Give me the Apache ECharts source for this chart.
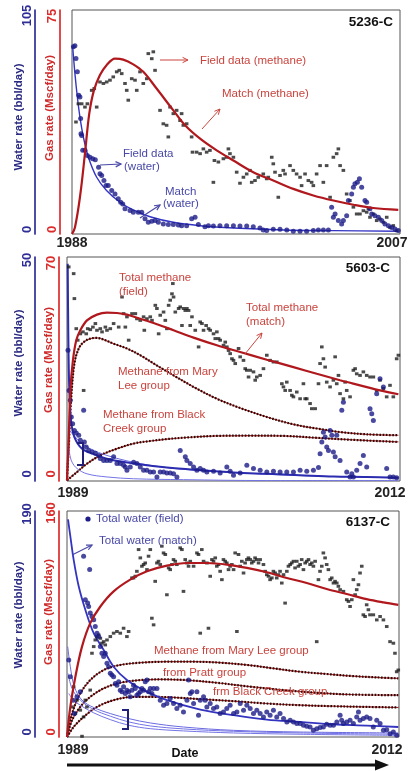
<!DOCTYPE html>
<html><head><meta charset="utf-8">
<script src="https://cdn.jsdelivr.net/npm/echarts@6/dist/echarts.min.js"></script>
<style>html,body{margin:0;padding:0;background:#fff}#c{width:408px;height:771px}</style>
</head><body><div id="c"></div>
<script>
// ---------- tick labels ----------
const xTicks1=[1988,2007], gasTicks1=[0,75], waterTicks1=[0,105];
const xTicks2=[1989,2012], gasTicks2=[0,70], waterTicks2=[0,50];
const xTicks3=[1989,2012], gasTicks3=[0,160], waterTicks3=[0,190];

// ---------- panel 1 : 5236-C ----------
const gas1Match=[[1988.0,0],[1988.17,2.2],[1988.46,12.3],[1988.75,26.9],[1989.0,40.3],[1989.27,48.1],[1989.62,53.2],[1990.0,56.5],[1990.49,58.7],[1990.97,58.4],[1991.55,56.8],[1992.13,54.3],[1992.9,48.7],[1993.87,41.4],[1994.55,36.4],[1995.42,31.9],[1996.38,28],[1997.35,24.6],[1998.5,20.7],[1999.66,17.9],[2000.82,15.1],[2001.98,12.9],[2003.14,11.2],[2004.3,9.8],[2005.46,8.7],[2006.9,8.1]];
const water1Match=[[1988.04,87.8],[1988.17,75.2],[1988.31,64.2],[1988.46,54.8],[1988.66,45.4],[1988.95,36],[1989.43,26.6],[1990.0,20.4],[1990.78,14.9],[1991.55,11.3],[1992.52,8.1],[1993.87,5.5],[1995.42,3.9],[1997.35,2.8],[2000.24,1.9],[2003.14,1.6],[2006.9,1.3]];
const gas1Field=[[1988.23,37.5],[1988.37,43.6],[1988.56,43.6],[1988.75,42.5],[1988.89,43.6],[1989.14,48.1],[1989.29,48.7],[1989.43,42.5],[1989.62,50.9],[1989.82,50.4],[1990.01,50.9],[1990.2,51.5],[1990.39,52.6],[1990.59,54.3],[1990.74,54.8],[1990.88,53.7],[1991.07,50.4],[1991.17,48.1],[1991.26,44.8],[1991.46,52.0],[1991.65,51.5],[1991.75,48.1],[1991.94,54.3],[1992.13,50.4],[1992.33,52.0],[1992.42,60.4],[1992.62,58.7],[1992.71,61.0],[1992.81,54.8],[1993.1,41.4],[1993.29,36.9],[1993.48,36.4],[1993.58,32.5],[1993.68,42.5],[1993.87,40.3],[1994.06,41.4],[1994.26,38.0],[1994.35,40.3],[1994.45,36.4],[1994.64,36.9],[1994.93,32.5],[1994.98,27.4],[1995.22,27.4],[1995.42,26.9],[1995.61,28.5],[1995.8,27.4],[1995.99,28.0],[1996.19,17.3],[1996.25,24.6],[1996.48,24.1],[1996.77,25.2],[1996.96,25.7],[1997.06,28.5],[1997.15,26.9],[1997.35,25.7],[1997.54,20.7],[1997.73,17.0],[1997.93,19.0],[1998.12,20.1],[1998.31,21.3],[1998.41,17.3],[1998.6,17.9],[1998.79,19.0],[1999.08,20.1],[1999.28,18.5],[1999.37,19.0],[1999.57,25.7],[1999.66,23.5],[1999.76,20.7],[1999.95,12.3],[2000.05,19.6],[2000.24,21.3],[2000.34,20.1],[2000.63,22.9],[2000.82,21.3],[2001.01,20.1],[2001.21,19.0],[2001.3,16.2],[2001.5,20.1],[2001.69,17.9],[2001.88,17.3],[2001.98,16.2],[2002.17,20.1],[2002.37,22.9],[2002.56,17.3],[2002.75,22.9],[2002.95,12.3],[2003.14,25.7],[2003.33,26.9],[2003.43,28.5],[2003.53,22.9],[2003.72,21.3],[2003.91,13.4],[2004.1,11.2],[2004.3,9.0],[2004.49,6.7],[2004.68,6.7],[2004.88,7.8],[2005.07,7.3],[2005.17,8.4],[2005.26,5.6],[2005.46,6.7],[2005.65,4.5],[2005.84,5.0],[2006.04,3.9],[2006.23,5.6],[2006.42,2.2],[2006.61,2.8],[2006.81,1.1]];
const water1Field=[[1988.08,87.8],[1988.17,88.2],[1988.23,82.3],[1988.31,76.0],[1988.39,65.0],[1988.46,64.2],[1988.5,54.1],[1988.52,47.0],[1988.56,46.2],[1988.62,39.2],[1988.75,39.2],[1988.89,36.8],[1989.04,36.0],[1989.2,35.3],[1989.35,34.8],[1989.54,31.3],[1989.62,28.2],[1989.72,27.4],[1989.85,25.1],[1989.97,22.7],[1990.1,22.7],[1990.3,20.4],[1990.49,18.8],[1990.68,16.5],[1990.82,14.9],[1990.94,14.1],[1991.07,11.8],[1991.36,11.0],[1991.55,10.2],[1991.84,10.2],[1992.04,10.2],[1992.23,7.1],[1992.42,5.5],[1992.62,6.0],[1992.81,6.3],[1993.0,5.5],[1993.29,4.7],[1993.58,4.4],[1993.87,4.4],[1994.16,4.2],[1994.35,3.9],[1994.64,3.9],[1994.93,7.1],[1995.13,7.8],[1995.32,4.4],[1995.7,3.4],[1995.9,3.9],[1996.19,3.8],[1996.57,3.9],[1996.96,3.9],[1997.35,3.9],[1997.73,3.8],[1998.12,3.8],[1998.5,3.4],[1998.89,2.8],[1999.08,1.9],[1999.28,1.6],[1999.66,2.2],[2000.05,2.2],[2000.44,1.9],[2000.82,1.3],[2001.21,1.3],[2001.59,1.3],[2001.98,1.6],[2002.27,1.9],[2002.56,1.9],[2002.85,1.9],[2003.04,12.5],[2003.14,7.8],[2003.24,9.4],[2003.43,6.3],[2003.62,4.7],[2003.72,6.3],[2003.91,8.6],[2004.01,15.7],[2004.2,18.8],[2004.3,21.9],[2004.39,23.5],[2004.53,24.3],[2004.65,25.9],[2004.78,21.9],[2004.97,15.7],[2005.07,14.9],[2005.26,11.8],[2005.36,9.4],[2005.55,8.6],[2005.75,7.8],[2005.94,6.3],[2006.13,4.7],[2006.33,3.9],[2006.52,3.1],[2006.71,2.4],[2006.9,1.6]];

// ---------- panel 2 : 5603-C ----------
const gas2Match=[[1989.0,0.2],[1989.12,13.7],[1989.23,28.3],[1989.41,37.7],[1989.64,44.0],[1989.92,47.1],[1990.38,50.2],[1991.07,52.0],[1991.76,52.6],[1992.45,52.5],[1993.14,52.0],[1994.06,50.7],[1995.21,49.0],[1996.36,47.1],[1997.74,44.8],[1999.35,42.4],[2000.96,40.3],[2002.8,37.9],[2004.64,35.6],[2006.25,33.5],[2007.86,31.5],[2009.24,29.9],[2010.62,28.3],[2011.89,27.1]];
const maryLee2=[[1989.0,0.2],[1989.12,10.6],[1989.28,25.2],[1989.51,36.7],[1989.81,41.4],[1990.15,43.4],[1990.61,44.5],[1991.07,44.7],[1991.53,44.2],[1992.22,42.9],[1993.14,41.4],[1994.06,39.3],[1995.21,36.1],[1996.36,33.0],[1997.74,29.4],[1999.35,25.7],[2000.96,22.8],[2002.8,20.0],[2004.64,17.7],[2006.25,16.4],[2007.86,15.3],[2009.7,14.6],[2011.89,14.3]];
const blackCreek2=[[1989.0,0.2],[1989.69,2.8],[1990.38,5.4],[1991.3,8.0],[1992.45,10.1],[1993.6,11.7],[1994.75,12.5],[1995.9,13.1],[1997.28,13.6],[1999.35,14.1],[2001.65,14.2],[2003.95,14.1],[2006.25,13.5],[2008.55,12.9],[2011.89,12.2]];
const water2Match=[[1989.05,48.5],[1989.09,32.9],[1989.16,20.2],[1989.28,13.5],[1989.51,9.8],[1990.04,7.2],[1990.84,6.0],[1991.99,4.8],[1993.6,3.9],[1995.9,3.0],[1998.2,2.4],[2000.5,1.9],[2002.8,1.6],[2005.1,1.3],[2007.4,1.0],[2009.7,0.9],[2011.89,0.7]];
const water2CompA=[[1989.07,11.7],[1989.35,10.6],[1989.92,8.7],[1990.61,7.2],[1991.76,5.7],[1993.14,4.5],[1994.75,3.5],[1997.05,2.6],[2000.5,1.9],[2005.1,1.2],[2011.89,0.7]];
const water2CompB=[[1989.09,9.1],[1989.18,6.1],[1989.35,4.2],[1989.69,2.8],[1990.38,1.6],[1991.76,0.9],[1993.6,0.5],[1997.05,0.3],[2002.8,0.1],[2011.89,0.1]];
const gas2Field=[[1989.12,66.9],[1989.46,64.8],[1989.51,57.0],[1989.64,47.6],[1989.74,44.0],[1989.92,46.0],[1990.1,46.6],[1990.15,28.3],[1990.33,46.0],[1990.43,47.6],[1990.61,47.3],[1990.79,48.1],[1990.96,49.2],[1991.07,47.1],[1991.3,47.6],[1991.42,46.6],[1991.65,48.1],[1991.76,47.1],[1991.99,47.6],[1992.22,49.2],[1992.57,48.1],[1992.8,57.5],[1992.91,52.3],[1993.03,48.1],[1993.14,51.3],[1993.26,44.0],[1993.49,52.3],[1993.72,52.3],[1993.83,50.7],[1994.06,50.2],[1994.29,51.3],[1994.34,47.1],[1994.52,50.7],[1994.75,51.3],[1994.87,50.2],[1995.1,54.9],[1995.21,53.9],[1995.33,46.0],[1995.44,51.8],[1995.67,52.8],[1995.79,50.2],[1995.9,47.6],[1996.02,54.9],[1996.13,56.5],[1996.25,58.5],[1996.31,61.7],[1996.36,57.5],[1996.48,52.8],[1996.71,53.9],[1996.82,54.4],[1996.94,48.6],[1997.05,53.9],[1997.17,53.3],[1997.28,53.9],[1997.4,53.3],[1997.51,48.6],[1997.63,51.3],[1997.86,47.1],[1998.09,41.9],[1998.2,49.7],[1998.32,49.2],[1998.43,47.1],[1998.61,48.6],[1998.78,47.6],[1998.89,47.1],[1999.12,46.0],[1999.24,44.5],[1999.35,46.6],[1999.47,44.5],[1999.58,44.0],[1999.81,42.4],[1999.93,43.4],[2000.04,41.9],[2000.16,40.8],[2000.27,39.8],[2000.39,38.2],[2000.5,37.7],[2000.62,36.7],[2000.85,41.4],[2000.96,38.8],[2001.19,37.7],[2001.31,35.1],[2001.42,34.6],[2001.54,32.5],[2001.65,34.6],[2001.88,34.1],[2002.0,31.5],[2002.11,32.5],[2002.34,33.0],[2002.57,35.1],[2002.8,39.3],[2003.03,37.7],[2003.26,37.2],[2003.49,37.2],[2003.84,30.4],[2003.95,29.4],[2004.07,28.3],[2004.18,30.9],[2004.41,28.3],[2004.53,26.8],[2004.64,26.3],[2004.87,27.8],[2005.1,25.7],[2005.33,30.4],[2005.45,25.7],[2005.56,25.7],[2005.79,24.2],[2005.91,22.6],[2006.14,22.6],[2006.37,30.4],[2006.48,36.7],[2006.6,41.9],[2006.71,38.2],[2006.83,35.6],[2006.94,30.9],[2007.17,29.4],[2007.4,31.5],[2007.52,38.8],[2007.63,30.4],[2007.75,33.0],[2007.86,27.3],[2008.09,25.7],[2008.21,30.9],[2008.32,28.3],[2008.55,26.3],[2008.78,34.6],[2008.9,35.1],[2009.01,33.5],[2009.24,33.0],[2009.47,34.1],[2009.7,33.0],[2009.93,32.5],[2010.16,32.5],[2010.39,28.3],[2010.62,31.5],[2010.85,28.9],[2011.08,26.3],[2011.31,29.9],[2011.54,26.3],[2011.77,38.2],[2011.89,39.3]];
const water2Field=[[1989.07,29.2],[1989.14,20.2],[1989.23,18.0],[1989.3,14.3],[1989.39,12.8],[1989.51,11.3],[1989.64,10.7],[1989.81,10.2],[1989.92,9.1],[1990.15,15.8],[1990.2,8.7],[1990.33,7.6],[1990.5,6.8],[1990.73,6.5],[1990.96,6.2],[1991.19,5.7],[1991.3,5.0],[1991.53,4.6],[1991.76,4.6],[1991.99,4.6],[1992.22,5.4],[1992.45,3.9],[1992.68,3.9],[1992.91,3.5],[1993.03,3.1],[1993.14,2.4],[1993.37,3.1],[1993.6,4.2],[1993.83,3.9],[1994.06,3.1],[1994.29,2.4],[1994.52,2.4],[1994.75,2.0],[1994.98,2.0],[1995.21,0.9],[1995.44,2.0],[1995.67,2.0],[1995.9,1.8],[1996.13,1.8],[1996.36,1.6],[1996.59,0.9],[1996.82,6.8],[1997.17,5.4],[1997.28,4.6],[1997.51,3.9],[1997.74,3.1],[1997.97,2.4],[1998.2,2.8],[1998.43,2.4],[1998.66,2.0],[1999.12,2.2],[1999.58,1.8],[2000.04,3.1],[2000.27,2.2],[2000.5,1.3],[2000.96,1.8],[2001.42,3.5],[2001.88,2.8],[2002.34,2.4],[2002.8,2.0],[2003.26,2.2],[2003.72,2.0],[2004.18,2.0],[2004.64,2.0],[2005.1,2.4],[2005.56,2.2],[2006.02,2.4],[2006.37,3.0],[2006.48,6.1],[2006.6,8.7],[2006.71,10.9],[2006.83,9.8],[2006.94,7.6],[2007.06,6.8],[2007.17,11.3],[2007.29,10.2],[2007.4,6.5],[2007.52,5.4],[2007.63,10.2],[2007.86,4.6],[2007.98,15.8],[2008.09,17.6],[2008.32,2.0],[2008.55,0.9],[2008.67,1.6],[2008.78,0.9],[2009.01,2.4],[2009.24,3.9],[2009.47,5.7],[2009.7,3.1],[2009.93,16.1],[2010.05,15.0],[2010.16,13.5],[2010.39,19.5],[2010.62,22.8],[2010.85,21.0],[2011.08,2.8],[2011.31,0.9],[2011.54,0.9],[2011.77,0.7]];

// ---------- panel 3 : 6137-C ----------
const gas3Match=[[1989.0,0],[1989.23,21.3],[1989.58,42.7],[1990.04,64.0],[1990.61,80.6],[1991.31,92.4],[1992.23,103.1],[1993.38,111.4],[1994.54,117.3],[1995.92,121.3],[1997.31,123.2],[1998.69,123.2],[2000.07,122.1],[2001.46,119.7],[2002.84,116.6],[2004.23,112.6],[2005.61,109.0],[2006.99,104.8],[2008.38,101.2],[2009.76,97.6],[2010.92,95.3],[2011.95,93.6]];
const maryLee3=[[1989.0,0],[1989.35,16.6],[1989.92,30.8],[1990.61,40.3],[1991.54,47.4],[1992.69,51.0],[1994.08,52.6],[1995.92,53.3],[1997.77,53.3],[1999.61,52.6],[2001.46,51.0],[2003.3,48.6],[2005.15,46.2],[2006.99,44.6],[2008.84,43.1],[2010.46,42.2],[2011.95,41.5]];
const pratt3=[[1989.0,0],[1989.35,11.9],[1989.92,21.3],[1990.61,28.4],[1991.54,34.4],[1992.69,38.4],[1994.08,40.3],[1995.46,40.8],[1997.31,40.3],[1999.38,38.4],[2001.69,35.6],[2004.0,33.2],[2006.3,31.3],[2008.61,30.1],[2011.95,29.6]];
const blackCreek3=[[1989.0,0],[1989.46,7.1],[1990.15,14.2],[1991.08,21.3],[1992.23,26.1],[1993.61,28.4],[1995.0,28.4],[1996.38,28.0],[1998.23,26.8],[2000.54,25.4],[2002.84,23.7],[2005.15,22.5],[2007.46,21.8],[2009.76,21.3],[2011.95,20.9]];
const water3Match=[[1989.07,183.0],[1989.23,168.9],[1989.46,149.2],[1989.81,126.7],[1990.27,107.0],[1990.85,87.3],[1991.54,73.2],[1992.23,59.1],[1993.15,47.9],[1994.31,39.4],[1995.92,31.0],[1998.23,23.1],[2000.54,18.3],[2002.84,14.6],[2005.15,12.7],[2007.46,10.7],[2009.76,9.6],[2011.95,8.4]];
const water3Comp1=[[1989.05,76.0],[1989.23,59.1],[1989.51,42.2],[1990.04,31.0],[1990.85,24.8],[1992.0,19.7],[1993.27,15.5],[1994.77,11.8],[1997.07,8.4],[2000.54,5.6],[2005.15,4.2],[2011.95,3.4]];
const water3Comp2=[[1989.07,53.5],[1989.35,40.8],[1989.92,31.0],[1990.85,23.1],[1992.0,17.5],[1993.27,12.7],[1994.77,9.3],[1997.07,6.8],[2000.54,4.8],[2005.15,3.4],[2011.95,2.3]];
const water3Comp3=[[1989.12,36.6],[1989.46,31.0],[1989.92,26.7],[1990.85,20.3],[1992.0,14.6],[1993.27,9.9],[1994.77,7.0],[1997.07,5.1],[2000.54,3.4],[2005.15,2.3],[2011.95,1.4]];
const gas3Field=[[1989.35,21.3],[1989.46,35.6],[1989.58,16.6],[1989.69,26.1],[1989.92,19.0],[1990.04,0.5],[1990.15,14.2],[1990.27,26.1],[1990.38,21.3],[1990.61,33.2],[1990.73,59.3],[1990.85,64.0],[1990.96,68.7],[1991.08,71.1],[1991.19,72.3],[1991.31,69.9],[1991.42,66.4],[1991.54,67.5],[1991.65,65.2],[1991.77,68.7],[1992.0,71.1],[1992.23,73.5],[1992.46,74.7],[1992.69,73.5],[1992.92,77.0],[1993.15,71.1],[1993.27,74.7],[1993.5,112.6],[1993.61,112.6],[1993.73,113.8],[1993.84,117.3],[1993.96,132.7],[1994.08,126.8],[1994.19,120.9],[1994.31,122.1],[1994.42,123.2],[1994.54,118.5],[1994.65,128.0],[1994.77,132.7],[1994.88,84.1],[1995.0,79.4],[1995.11,110.2],[1995.23,123.2],[1995.34,124.4],[1995.46,122.1],[1995.57,135.1],[1995.69,130.3],[1995.81,129.2],[1995.92,100.7],[1996.04,119.7],[1996.15,118.5],[1996.27,122.1],[1996.38,125.6],[1996.5,124.4],[1996.61,122.1],[1996.84,133.9],[1996.96,132.7],[1997.07,103.1],[1997.19,125.6],[1997.31,123.2],[1997.42,120.9],[1997.54,124.4],[1997.77,120.9],[1998.0,130.3],[1998.11,129.2],[1998.23,73.5],[1998.34,132.7],[1998.46,124.4],[1998.69,123.2],[1998.8,77.0],[1998.92,113.8],[1999.04,125.6],[1999.15,124.4],[1999.27,126.8],[1999.38,120.9],[1999.5,122.1],[1999.61,117.3],[1999.73,111.4],[1999.84,125.6],[1999.96,124.4],[2000.07,123.2],[2000.19,118.5],[2000.3,120.9],[2000.42,122.1],[2000.54,118.5],[2000.65,130.3],[2000.77,74.7],[2000.88,129.2],[2001.0,120.9],[2001.11,124.4],[2001.23,116.1],[2001.34,123.2],[2001.46,125.6],[2001.57,126.8],[2001.69,125.6],[2001.8,123.2],[2001.92,124.4],[2002.03,126.8],[2002.15,125.6],[2002.27,123.2],[2002.38,125.6],[2002.61,122.1],[2002.73,117.3],[2002.84,114.9],[2002.96,113.8],[2003.07,111.4],[2003.19,112.6],[2003.3,117.3],[2003.42,116.1],[2003.53,112.6],[2003.65,114.9],[2003.76,117.3],[2003.88,109.0],[2004.0,114.9],[2004.11,94.8],[2004.23,117.3],[2004.34,120.9],[2004.46,122.1],[2004.57,123.2],[2004.69,124.4],[2004.8,119.7],[2004.92,124.4],[2005.03,120.9],[2005.15,122.1],[2005.26,125.6],[2005.38,118.5],[2005.5,123.2],[2005.61,124.4],[2005.73,125.6],[2005.84,122.1],[2005.96,123.2],[2006.07,120.9],[2006.19,124.4],[2006.3,67.5],[2006.42,111.4],[2006.53,117.3],[2006.65,120.9],[2006.76,130.3],[2006.88,126.8],[2006.99,122.1],[2007.11,118.5],[2007.23,111.4],[2007.34,112.6],[2007.46,109.0],[2007.57,110.2],[2007.69,109.0],[2007.8,106.7],[2007.92,104.3],[2008.15,103.1],[2008.38,97.2],[2008.5,96.0],[2008.61,92.4],[2008.73,97.2],[2008.84,111.4],[2008.96,100.7],[2009.07,104.3],[2009.19,107.8],[2009.3,116.1],[2009.42,120.9],[2009.53,86.5],[2009.65,85.3],[2009.76,93.6],[2009.88,90.1],[2009.99,86.5],[2010.22,86.5],[2010.46,82.9],[2010.69,85.3],[2010.92,82.9],[2011.15,78.2],[2011.38,67.5],[2011.61,66.4],[2011.72,59.3],[2011.84,46.2],[2011.95,47.4]];
const water3Field=[[1989.12,64.7],[1989.23,50.7],[1989.42,31.0],[1989.51,19.7],[1989.69,33.8],[1989.92,38.0],[1990.15,152.0],[1990.57,140.8],[1990.27,115.4],[1990.43,112.6],[1990.5,109.8],[1990.61,104.2],[1990.73,101.4],[1990.85,98.5],[1990.96,92.9],[1991.08,87.3],[1991.19,84.5],[1991.31,76.0],[1991.42,70.4],[1991.54,67.6],[1991.65,70.4],[1991.77,61.9],[1991.88,59.1],[1992.0,53.5],[1992.11,52.1],[1992.23,50.7],[1992.35,45.0],[1992.46,43.6],[1992.58,46.4],[1992.69,39.4],[1992.81,38.0],[1992.92,42.2],[1993.04,36.6],[1993.15,39.4],[1993.27,38.0],[1993.38,33.8],[1993.5,39.4],[1993.61,43.6],[1993.73,40.8],[1993.84,35.2],[1993.96,36.6],[1994.08,38.0],[1994.19,40.8],[1994.31,39.4],[1994.42,46.4],[1994.54,47.9],[1994.65,38.0],[1994.77,40.8],[1994.88,36.6],[1995.0,40.8],[1995.23,40.8],[1995.46,31.0],[1995.69,26.7],[1995.92,28.2],[1996.15,32.4],[1996.38,28.2],[1996.61,23.9],[1996.84,26.7],[1997.07,21.1],[1997.31,31.0],[1997.42,47.9],[1997.54,36.6],[1997.65,38.0],[1997.77,28.2],[1998.0,38.0],[1998.11,18.3],[1998.23,31.0],[1998.46,33.8],[1998.57,31.0],[1998.69,25.3],[1998.92,28.2],[1999.15,23.9],[1999.38,25.3],[1999.61,19.7],[1999.84,21.1],[2000.07,23.9],[2000.3,26.7],[2000.54,19.7],[2000.77,21.1],[2001.0,28.2],[2001.23,22.5],[2001.46,26.7],[2001.69,23.9],[2001.92,19.7],[2002.15,22.5],[2002.38,19.7],[2002.61,16.9],[2002.84,21.1],[2003.07,18.3],[2003.3,22.5],[2003.53,16.9],[2003.76,19.7],[2004.0,15.5],[2004.23,12.7],[2004.46,14.1],[2004.69,12.7],[2004.92,11.3],[2005.15,11.3],[2005.38,9.9],[2005.61,9.0],[2005.84,8.4],[2006.07,5.6],[2006.3,7.0],[2006.53,7.9],[2006.76,8.4],[2006.99,10.7],[2007.23,9.9],[2007.46,9.9],[2007.69,12.7],[2007.92,18.3],[2008.03,14.1],[2008.15,11.3],[2008.38,12.7],[2008.61,14.1],[2008.84,11.3],[2009.07,16.9],[2009.19,21.1],[2009.3,14.1],[2009.53,15.5],[2009.76,16.9],[2009.99,15.5],[2010.22,8.4],[2010.46,14.1],[2010.69,11.3],[2010.92,5.6],[2011.15,6.2],[2011.38,2.8],[2011.61,4.2],[2011.84,1.4]];

// ---------- styling ----------
const FONT='"Liberation Sans", Arial, sans-serif';
const BLUE_AX='#2e2e96', RED_AX='#dc2b2b', BLUE_TT='#2a2a80', RED_TT='#cf2b2b';
const RED_T='#c9443e', BLUE_T='#4848a8';
const DOT_BLK='#1e1e1e', DOT_BLU='#1c1c88', MATCH_RED='#b0181d';

function xAx(gi,ticks,padL,padR,margin,extra){
  const f={fontWeight:'bold',fontSize:14,color:'#222',fontFamily:FONT};
  return Object.assign({type:'value',gridIndex:gi,min:ticks[0],max:ticks[1],nameMoveOverlap:false,
    splitLine:{show:false},axisLine:{show:false},axisTick:{show:false},
    axisLabel:{customValues:ticks,margin,
      formatter:v=>v===ticks[0]?'{a|'+v+'}':'{b|'+v+'}',
      rich:{a:Object.assign({padding:[0,0,0,padL]},f),b:Object.assign({padding:[0,padR,0,0]},f)}}},extra||{});
}
function yAx(gi,ticks,color,tcolor,offset,name,nameGap,shift,padTop,padZero){
  const f={fontWeight:'bold',fontSize:13,color,fontFamily:FONT};
  return {type:'value',gridIndex:gi,position:'left',offset,min:ticks[0],max:ticks[1],nameMoveOverlap:false,
    splitLine:{show:false},axisTick:{show:false},
    axisLine:{show:true,lineStyle:{color,width:1.7}},
    axisLabel:{customValues:ticks,rotate:90,margin:1,
      formatter:v=>v===0?'{z|0}':'{m|'+v+'}',
      rich:{z:Object.assign({padding:[0,0,0,padZero]},f),m:Object.assign({padding:[0,padTop,0,0]},f)}},
    name,nameLocation:'middle',nameRotate:90,nameGap,
    nameTextStyle:{color:tcolor,fontWeight:'bold',fontSize:11.5,fontFamily:FONT,padding:[0,0,0,2*shift]}};
}
function scatBlk(i,ax,data){return {type:'scatter',xAxisIndex:i,yAxisIndex:ax,data,symbol:'rect',symbolSize:[3.6,3],itemStyle:{color:DOT_BLK},silent:true,z:3};}
function scatBlu(i,ax,data){return {type:'scatter',xAxisIndex:i,yAxisIndex:ax,data,symbolSize:5,itemStyle:{color:DOT_BLU},silent:true,z:3};}
function ln(i,yi,data,color,width,type,z){return {type:'line',xAxisIndex:i,yAxisIndex:yi,data,smooth:0.35,symbol:'none',lineStyle:{color,width,type:type||'solid'},z:z||2,silent:true};}
// component (source-group) curve: thin red line with dense dark beads
function comp(i,yi,data){return [ln(i,yi,data,'#b02a2a',1.2,'solid',2),ln(i,yi,data,'#2a0808',2.2,[1.6,1.6],2)];}

// annotations
const G=[];
function txt(x,y,s,color,size,weight,align){G.push({type:'text',x,y,z:100,silent:true,style:{text:s,fill:color,font:(weight||'normal')+' '+(size||11.5)+'px '+FONT,align:align||'left',verticalAlign:'middle'}});}
function arrow(x1,y1,x2,y2,color,w){
  const a=Math.atan2(y2-y1,x2-x1),h=6,s=0.45;
  G.push({type:'line',z:100,silent:true,shape:{x1,y1,x2,y2},style:{stroke:color,lineWidth:w}});
  G.push({type:'polyline',z:100,silent:true,shape:{points:[[x2-h*Math.cos(a-s),y2-h*Math.sin(a-s)],[x2,y2],[x2-h*Math.cos(a+s),y2-h*Math.sin(a+s)]]},style:{stroke:color,lineWidth:w,fill:null}});
}
function bracket(x1,x2,y1,y2){G.push({type:'polyline',z:100,silent:true,shape:{points:[[x1,y1],[x2,y1],[x2,y2],[x1,y2]]},style:{stroke:'#20207a',lineWidth:2,fill:null}});}

// panel 1
txt(200,61,'Field data (methane)',RED_T); arrow(160,60,188,60,RED_T,1);
txt(222,94,'Match (methane)',RED_T); arrow(202,129,220,109,RED_T,1);
txt(123,154,'Field data',BLUE_T); txt(124,167,'(water)',BLUE_T); arrow(100,165,121,164,BLUE_T,1.2);
txt(165,192,'Match',BLUE_T); txt(163,204,'(water)',BLUE_T); arrow(140,218,160,205,BLUE_T,1.2);
txt(393,22,'5236-C','#111',13.5,'bold','right');
// panel 2
txt(119,278,'Total methane',RED_T); txt(119,292,'(field)',RED_T);
txt(246,308,'Total methane',RED_T); txt(246,322,'(match)',RED_T); arrow(245,354,262,333,RED_T,1);
txt(118,372,'Methane from Mary',RED_T); txt(118,386,'Lee group',RED_T);
txt(103,415,'Methane from Black',RED_T); txt(103,429,'Creek group',RED_T);
bracket(77,83,443,465);
txt(390,268,'5603-C','#111',13.5,'bold','right');
// panel 3
G.push({type:'circle',z:100,silent:true,shape:{cx:88,cy:519,r:2.6},style:{fill:DOT_BLU}});
txt(96,519,'Total water (field)',BLUE_T);
txt(99,541,'Total water (match)',BLUE_T); arrow(72,555,92,545,BLUE_T,1.2);
txt(154,651,'Methane from Mary Lee group',RED_T);
txt(163,673,'from Pratt group',RED_T);
txt(213,692,'frm Black Creek group',RED_T);
bracket(122,128,710,729);
txt(390,522,'6137-C','#111',13.5,'bold','right');
G.push({type:'line',z:100,silent:true,shape:{x1:67,y1:765,x2:378,y2:765},style:{stroke:'#111',lineWidth:3}});
G.push({type:'polygon',z:100,silent:true,shape:{points:[[375,759.5],[389,765],[375,770.5]]},style:{fill:'#111'}});

const gridBase={show:true,borderColor:'#555',borderWidth:1,backgroundColor:'transparent',outerBoundsMode:'none'};
const option={
  animation:false,
  textStyle:{fontFamily:FONT},
  grid:[
    Object.assign({left:72,right:8,top:10,height:224},gridBase),
    Object.assign({left:67,right:8,top:257,height:224},gridBase),
    Object.assign({left:67,right:9,top:511,height:226},gridBase)
  ],
  xAxis:[
    xAx(0,xTicks1,0,16,2),
    xAx(1,xTicks2,12,20,5),
    xAx(2,xTicks3,12,24,6,{name:'Date',nameLocation:'middle',nameGap:10,nameTextStyle:{fontWeight:'bold',fontSize:12.5,color:'#111',fontFamily:FONT,padding:[0,96,0,0]}})
  ],
  yAxis:[
    yAx(0,gasTicks1,RED_AX,RED_TT,12,'Gas rate (Mscf/day)',4,14,12,9),
    yAx(0,waterTicks1,BLUE_AX,BLUE_TT,37,'Water rate (bbl/day)',10,5,11,9),
    yAx(1,gasTicks2,RED_AX,RED_TT,8,'Gas rate (Mscf/day)',4,9,12,14),
    yAx(1,waterTicks2,BLUE_AX,BLUE_TT,32,'Water rate (bbl/day)',10,6,6,14),
    yAx(2,gasTicks3,RED_AX,RED_TT,8,'Gas rate (Mscf/day)',4,12,4,10),
    yAx(2,waterTicks3,BLUE_AX,BLUE_TT,32,'Water rate (bbl/day)',10,9,6,10)
  ],
  series:[].concat(
    // panel 1
    [ln(0,1,water1Match,'#3434c4',1.4,'solid',2),
     scatBlk(0,0,gas1Field),
     scatBlu(0,1,water1Field),
     ln(0,0,gas1Match,MATCH_RED,2.2,'solid',4)],
    // panel 2
    comp(1,2,blackCreek2), comp(1,2,maryLee2),
    [ln(1,3,water2CompB,'#7474e6',1,'solid',2),
     ln(1,3,water2CompA,'#6a6ae0',1,'solid',2),
     ln(1,3,water2Match,'#2c2cb0',2,'solid',2),
     scatBlk(1,2,gas2Field),
     scatBlu(1,3,water2Field),
     ln(1,2,gas2Match,MATCH_RED,2.2,'solid',4)],
    // panel 3
    comp(2,4,blackCreek3), comp(2,4,pratt3), comp(2,4,maryLee3),
    [ln(2,5,water3Comp3,'#7474e6',1,'solid',2),
     ln(2,5,water3Comp2,'#7474e6',1,'solid',2),
     ln(2,5,water3Comp1,'#6a6ae0',1,'solid',2),
     ln(2,5,water3Match,'#3434c0',1.8,'solid',2),
     scatBlk(2,4,gas3Field),
     scatBlu(2,5,water3Field),
     ln(2,4,gas3Match,MATCH_RED,2.2,'solid',4)]
  ),
  graphic:G
};
const chart=echarts.init(document.getElementById('c'),null,{renderer:'canvas'});
chart.setOption(option);
</script></body></html>
